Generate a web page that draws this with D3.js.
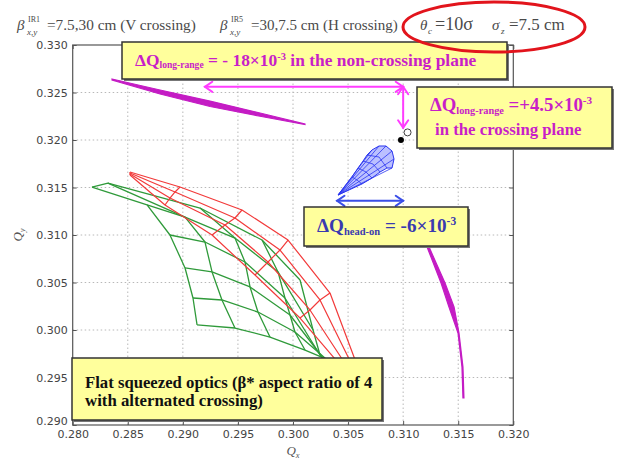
<!DOCTYPE html>
<html>
<head>
<meta charset="utf-8">
<script src="https://cdn.jsdelivr.net/npm/d3@7"></script>
<style>
  body { margin: 0; background: #fff; }
  svg { display: block; }
</style>
</head>
<body>
<div id="chart"></div>
<script>
// Tune footprint, flat squeezed optics with alternated crossing

var xTicks = [0.280, 0.285, 0.290, 0.295, 0.300, 0.305, 0.310, 0.315, 0.320];
var yTicks = [0.290, 0.295, 0.300, 0.305, 0.310, 0.315, 0.320, 0.325, 0.330];

// green footprint, rows of [Qx, Qy] nodes
var greenMesh = [
  [[0.29129,0.30053],[0.29473,0.30021],[0.29791,0.29926],[0.30109,0.29789],[0.30427,0.29632]],
  [[0.29092,0.30337],[0.29355,0.30316],[0.29682,0.30189],[0.30018,0.29979],[0.30363,0.29632]],
  [[0.29020,0.30653],[0.29265,0.30611],[0.29610,0.30453],[0.29973,0.30158],[0.30300,0.29663]],
  [[0.28883,0.31000],[0.29201,0.30926],[0.29564,0.30716],[0.29927,0.30337],[0.30245,0.29737]],
  [[0.28675,0.31316],[0.29020,0.31189],[0.29473,0.30968],[0.29864,0.30611],[0.30182,0.30000]],
  [[0.28175,0.31505],[0.28320,0.31547],[0.29156,0.31284],[0.29719,0.30947],[0.30064,0.30526]]
];

// red footprint
var redMesh = [
  [[0.28520,0.31663],[0.28974,0.31505],[0.29537,0.31263],[0.29955,0.30947],[0.30336,0.30389],[0.30581,0.29632]],
  [[0.28520,0.31653],[0.28929,0.31453],[0.29473,0.31179],[0.29882,0.30842],[0.30245,0.30316],[0.30536,0.29632]],
  [[0.28520,0.31642],[0.28883,0.31389],[0.29383,0.31105],[0.29773,0.30716],[0.30154,0.30211],[0.30481,0.29632]],
  [[0.28520,0.31632],[0.28838,0.31316],[0.29265,0.31000],[0.29655,0.30579],[0.30064,0.30126],[0.30427,0.29632]]
];

// long-range only footprints (thin slivers): upper edge, lower edge
var lrNonCrossUpper = [[0.28357,0.32642],[0.28793,0.32526],[0.29247,0.32410],[0.29701,0.32284],[0.30109,0.32168]];
var lrNonCrossLower = [[0.28357,0.32632],[0.28793,0.32484],[0.29247,0.32353],[0.29701,0.32250],[0.30109,0.32163]];
var lrCrossLeft  = [[0.31217,0.30874],[0.31344,0.30495],[0.31416,0.30242],[0.31498,0.29968],[0.31534,0.29611],[0.31543,0.29284]];
var lrCrossRight = [[0.31235,0.30874],[0.31380,0.30495],[0.31462,0.30242],[0.31507,0.29968],[0.31543,0.29611],[0.31552,0.29284]];

// head-on only footprint (cone)
var headOnTip = [0.30409, 0.31421];
var headOnCap = [[0.30717,0.31895],[0.30781,0.31937],[0.30844,0.31937],[0.30899,0.31884],[0.30917,0.31800],[0.30899,0.31705]];
var headOnArcs = [
  [[0.30536,0.31611],[0.30581,0.31579],[0.30626,0.31537]],
  [[0.30590,0.31705],[0.30663,0.31663],[0.30717,0.31600]],
  [[0.30636,0.31779],[0.30726,0.31747],[0.30790,0.31663]],
  [[0.30672,0.31842],[0.30781,0.31821],[0.30853,0.31705]]
];

var nominalTune = [0.3098, 0.3200];
var openTune = [0.3104, 0.3208];

// tune shift arrows [Qx1, Qy1, Qx2, Qy2]
var arrowLongRangeX = [0.292, 0.3256, 0.310, 0.3256];
var arrowLongRangeY = [0.310, 0.3256, 0.310, 0.3213];
var arrowHeadOn = [0.304, 0.3136, 0.310, 0.3136];

var width = 618, height = 464;
var margin = {top: 45, right: 104.7, bottom: 39, left: 72.7};

var svg = d3.select('#chart').append('svg')
  .attr('width', width)
  .attr('height', height);

var x = d3.scaleLinear().domain([0.280, 0.320]).range([margin.left, width - margin.right]);
var y = d3.scaleLinear().domain([0.290, 0.330]).range([height - margin.bottom, margin.top]);

// dotted grid
var grid = svg.append('g');
grid.selectAll('.vg').data(xTicks.slice(1, -1)).enter().append('line')
  .attr('x1', function(d) { return x(d); }).attr('x2', function(d) { return x(d); })
  .attr('y1', y(0.290)).attr('y2', y(0.330))
  .attr('stroke', '#b8b8b8').attr('stroke-width', 1).attr('stroke-dasharray', '1.5,2.5');
grid.selectAll('.hg').data(yTicks.slice(1, -1)).enter().append('line')
  .attr('y1', function(d) { return y(d); }).attr('y2', function(d) { return y(d); })
  .attr('x1', x(0.280)).attr('x2', x(0.320))
  .attr('stroke', '#b8b8b8').attr('stroke-width', 1).attr('stroke-dasharray', '1.5,2.5');

// axes
var fmt = d3.format('.3f');
svg.append('g').attr('transform', 'translate(0,' + y(0.290) + ')')
  .call(d3.axisBottom(x).tickValues(xTicks).tickFormat(fmt).tickSizeInner(-4).tickSizeOuter(0).tickPadding(5));
var gy = svg.append('g').attr('transform', 'translate(' + x(0.280) + ',0)')
  .call(d3.axisLeft(y).tickValues(yTicks).tickFormat(fmt).tickSizeInner(-4).tickSizeOuter(0).tickPadding(5));
svg.append('g').attr('transform', 'translate(0,' + y(0.330) + ')')
  .call(d3.axisTop(x).tickValues(xTicks).tickFormat('').tickSizeInner(-4).tickSizeOuter(0));
svg.append('g').attr('transform', 'translate(' + x(0.320) + ',0)')
  .call(d3.axisRight(y).tickValues(yTicks).tickFormat('').tickSizeInner(-4).tickSizeOuter(0));
svg.selectAll('.domain').remove();
svg.selectAll('.tick line').attr('stroke', '#555');
svg.selectAll('.tick text')
  .style('font-family', "'DejaVu Sans', sans-serif")
  .style('font-size', '11px')
  .attr('fill', '#444');
// lowest y label sits just above the x labels
gy.selectAll('.tick text').filter(function(d) { return d === 0.290; }).attr('y', -4);

svg.append('rect')
  .attr('x', x(0.280)).attr('y', y(0.330))
  .attr('width', x(0.320) - x(0.280)).attr('height', y(0.290) - y(0.330))
  .attr('fill', 'none').attr('stroke', '#555').attr('stroke-width', 1.2);

var serif = "'Liberation Serif', 'DejaVu Serif', serif";

// axis labels
svg.append('text').attr('x', (x(0.280) + x(0.320)) / 2).attr('y', 455)
  .attr('text-anchor', 'middle').style('font-family', serif).style('font-style', 'italic')
  .style('font-size', '13px').attr('fill', '#555')
  .html('Q<tspan font-size="0.65em" dy="0.3em">x</tspan>');
svg.append('text').attr('transform', 'translate(22,' + ((y(0.290) + y(0.330)) / 2) + ') rotate(-90)')
  .attr('text-anchor', 'middle').style('font-family', serif).style('font-style', 'italic')
  .style('font-size', '13px').attr('fill', '#555')
  .html('Q<tspan font-size="0.65em" dy="0.3em">y</tspan>');

var line = d3.line().x(function(d) { return x(d[0]); }).y(function(d) { return y(d[1]); });

function transpose(rows) {
  return rows[0].map(function(_, i) { return rows.map(function(r) { return r[i]; }); });
}

function drawMesh(rows, color, w) {
  var g = svg.append('g');
  g.selectAll('.r').data(rows.concat(transpose(rows))).enter().append('path')
    .attr('d', line)
    .attr('fill', 'none')
    .attr('stroke', color)
    .attr('stroke-width', w)
    .attr('stroke-linejoin', 'round');
}

drawMesh(greenMesh, '#2f9a3a', 1.3);
drawMesh(redMesh, '#f23a3a', 1.2);

// long-range slivers
svg.append('path').datum(lrNonCrossUpper.concat(lrNonCrossLower.slice().reverse()))
  .attr('d', function(d) { return line(d) + 'Z'; })
  .attr('fill', '#c41cc4').attr('stroke', '#c41cc4').attr('stroke-width', 1.2);
svg.append('path').datum(lrCrossLeft.concat(lrCrossRight.slice().reverse()))
  .attr('d', function(d) { return line(d) + 'Z'; })
  .attr('fill', '#c41cc4').attr('stroke', '#c41cc4').attr('stroke-width', 1.2);

// head-on cone
var coneOutline = [headOnTip]
  .concat(headOnArcs.map(function(a) { return a[0]; }))
  .concat(headOnCap)
  .concat(headOnArcs.map(function(a) { return a[2]; }).reverse());
svg.append('path').datum(coneOutline)
  .attr('d', function(d) { return line(d) + 'Z'; })
  .attr('fill', '#8d96ff').attr('fill-opacity', 0.6)
  .attr('stroke', '#2a35f0').attr('stroke-width', 1);
svg.append('g').selectAll('path').data(headOnCap).enter().append('path')
  .attr('d', function(d) { return line([headOnTip, d]); })
  .attr('stroke', '#2a35f0').attr('stroke-width', 0.8).attr('fill', 'none');
svg.append('g').selectAll('path').data(headOnArcs).enter().append('path')
  .attr('d', line)
  .attr('stroke', '#2a35f0').attr('stroke-width', 0.8).attr('fill', 'none');

// nominal working point
svg.append('circle').attr('cx', x(openTune[0])).attr('cy', y(openTune[1])).attr('r', 3.5)
  .attr('fill', '#fff').attr('stroke', '#444').attr('stroke-width', 1);
svg.append('circle').attr('cx', x(nominalTune[0])).attr('cy', y(nominalTune[1])).attr('r', 3)
  .attr('fill', '#000');

// arrows
function drawArrow(a, color, w) {
  var x1 = x(a[0]), y1 = y(a[1]), x2 = x(a[2]), y2 = y(a[3]);
  var ang = Math.atan2(y2 - y1, x2 - x1), L = 9, spread = 0.6;
  var g = svg.append('g').attr('stroke', color).attr('stroke-width', w)
    .attr('fill', 'none').attr('stroke-linecap', 'round');
  g.append('line').attr('x1', x1).attr('y1', y1).attr('x2', x2).attr('y2', y2);
  [[x1, y1, ang], [x2, y2, ang + Math.PI]].forEach(function(e) {
    g.append('path').attr('d',
      'M' + (e[0] + L * Math.cos(e[2] - spread)) + ',' + (e[1] + L * Math.sin(e[2] - spread)) +
      'L' + e[0] + ',' + e[1] +
      'L' + (e[0] + L * Math.cos(e[2] + spread)) + ',' + (e[1] + L * Math.sin(e[2] + spread)));
  });
}
drawArrow(arrowLongRangeX, '#ff3cff', 2);
drawArrow(arrowLongRangeY, '#ff3cff', 2);
drawArrow(arrowHeadOn, '#3a4ee8', 2);

// scale a text's font size so it spans the given width
function fit(sel, target) {
  var w = sel.node().getBBox().width;
  var fs = parseFloat(sel.style('font-size'));
  sel.style('font-size', (fs * target / w) + 'px');
  return sel;
}

// annotation boxes
function box(bx, by, bw, bh) {
  svg.append('rect').attr('x', bx + 2).attr('y', by + 2).attr('width', bw).attr('height', bh)
    .attr('fill', '#777');
  svg.append('rect').attr('x', bx).attr('y', by).attr('width', bw).attr('height', bh)
    .attr('fill', '#ffff9c').attr('stroke', '#333').attr('stroke-width', 1.5);
}
function label(tx, ty, color, html, target) {
  var t = svg.append('text').attr('x', tx).attr('y', ty)
    .style('font-family', serif).style('font-weight', 'bold').style('font-size', '15px')
    .attr('fill', color).html(html);
  return fit(t, target);
}
var magenta = '#c81ec8';

box(122, 42, 385, 37);
label(135, 66, magenta,
  'ΔQ<tspan font-size="0.55em" dy="0.25em">long-range</tspan><tspan dy="-0.14em"> = - 18×10</tspan>' +
  '<tspan font-size="0.6em" dy="-0.6em">-3</tspan><tspan dy="0.36em"> in the non-crossing plane</tspan>', 342);

box(417, 87, 195, 61);
label(430, 111, magenta,
  'ΔQ<tspan font-size="0.55em" dy="0.25em">long-range</tspan><tspan dy="-0.14em"> =+4.5×10</tspan>' +
  '<tspan font-size="0.6em" dy="-0.6em">-3</tspan>', 163);
label(435, 135, magenta, 'in the crossing plane', 147);

box(304, 207, 164, 39);
label(317, 232, '#3a3ab0',
  'ΔQ<tspan font-size="0.55em" dy="0.25em">head-on</tspan><tspan dy="-0.14em"> = -6×10</tspan>' +
  '<tspan font-size="0.6em" dy="-0.6em">-3</tspan>', 140);

box(72, 358, 310, 62);
label(85, 388, '#111', 'Flat squeezed optics (β* aspect ratio of 4', 288);
label(85, 406, '#111', 'with alternated crossing)', 178);

// title line
var title = svg.append('g').style('font-family', serif).attr('fill', '#4a4a4a');
function tt(tx, ty, s, size, style, target) {
  var t = title.append('text').attr('x', tx).attr('y', ty).style('font-size', size + 'px')
    .style('font-style', style || 'normal').text(s);
  if (target) fit(t, target);
}
tt(17, 30, 'β', 15, 'italic');
tt(28, 22, 'IR1', 8);
tt(27, 35, 'x,y', 9, 'italic');
tt(47, 30, '=7.5,30 cm (V crossing)', 15, 'normal', 149);
tt(220, 30, 'β', 15, 'italic');
tt(231, 22, 'IR5', 8);
tt(230, 35, 'x,y', 9, 'italic');
tt(251, 30, '=30,7.5 cm (H crossing)', 15, 'normal', 147);
tt(420, 30, 'θ', 15, 'italic');
tt(428, 34, 'c', 9, 'italic');
tt(435, 30, '=10σ', 15, 'normal', 38);
tt(492, 30, 'σ', 15, 'italic');
tt(501, 34, 'z', 9, 'italic');
tt(509, 30, '=7.5 cm', 15, 'normal', 56);

// red ellipse highlight
svg.append('ellipse').attr('cx', 494).attr('cy', 27).attr('rx', 91).attr('ry', 25)
  .attr('fill', 'none').attr('stroke', '#e2141c').attr('stroke-width', 3);
</script>
</body>
</html>
